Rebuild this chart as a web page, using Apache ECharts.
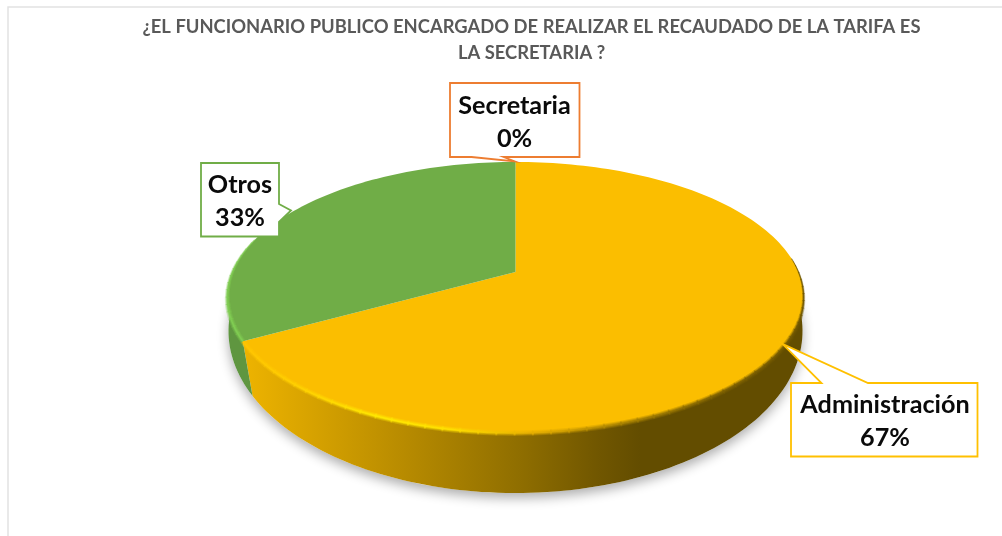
<!DOCTYPE html>
<html>
<head>
<meta charset="utf-8">
<style>html,body{margin:0;padding:0;background:#fff;overflow:hidden}#c{width:1002px;height:536px}</style>
<script src="https://cdn.jsdelivr.net/npm/echarts@6/dist/echarts.min.js"></script>
</head>
<body>
<div id="c"></div>
<script>
const titleLines = ['¿EL FUNCIONARIO PUBLICO ENCARGADO DE REALIZAR EL RECAUDADO DE LA TARIFA ES', 'LA SECRETARIA ?'];
const categories = ['Administración', 'Otros', 'Secretaria'];
const values = [67, 33, 0];

const faceColors = ['#FBBE00', '#70AD47', '#ED7D31'];
const boxColors = ['#FFC000', '#70AD47', '#ED7D31'];

// projection of the tilted disc
const top3d = {cx: 515.5, cy: 272, R: 283, S: 130.7, k: 0.188};
const bot3d = {cx: 515.5, cy: 314.8, R: 285.6, S: 160.4, k: 0.1};
function proj(p, deg) {
  const t = deg * Math.PI / 180, u = Math.sin(t), v = -Math.cos(t), w = 1 - p.k * v;
  return [p.cx + p.R * u / w, p.cy + p.S * v / w];
}
function arc(p, a, b) {
  const n = Math.max(2, Math.ceil(Math.abs(b - a) / 1.5)), out = [];
  for (let i = 0; i <= n; i++) out.push(proj(p, a + (b - a) * i / n));
  return out;
}
const total = values.reduce((s, v) => s + v, 0);
function angles(i) {
  let s = 0;
  for (let j = 0; j < i; j++) s += values[j];
  return [s / total * 360, (s + values[i]) / total * 360];
}
function grad(stops) {
  return {type: 'linear', x: 227, y: 0, x2: 804, y2: 0, global: true,
    colorStops: stops.map(s => ({offset: (s[0] - 227) / 577, color: s[1]}))};
}
const sideFill = [
  grad([[245, '#EDB300'], [400, '#B98C00'], [520, '#8F6E00'], [600, '#705600'], [640, '#634D00'], [804, '#634D00']]),
  '#5F9640', '#C0601F'
];
const rimStroke = [
  grad([[245, '#FFC400'], [300, '#FFD000'], [380, '#FFE800'], [450, '#FFE000'], [530, '#E8B000'], [620, '#A98200'], [720, '#7E6100'], [804, '#6E5500']]),
  '#80CC52', '#ED7D31'
];
const sideRange = [[85, 275], [85, 275], [85, 275]];

function sideItem(params, api) {
  const i = params.dataIndex;
  const [a0, b0] = angles(i);
  const a = Math.max(a0, sideRange[i][0]), b = Math.min(b0, sideRange[i][1]);
  if (b <= a) return {type: 'group', children: []};
  const pts = arc(top3d, a, b).concat(arc(bot3d, b, a));
  return {type: 'polygon', shape: {points: pts}, style: {fill: sideFill[i]}};
}
function shadowItem(params) {
  if (params.dataIndex !== 0) return {type: 'group', children: []};
  return {type: 'polygon', shape: {points: arc(bot3d, 0, 360)},
    style: {fill: '#fff', shadowBlur: 12, shadowColor: 'rgba(0,0,0,0.32)', shadowOffsetY: 5}};
}
function faceItem(params) {
  const i = params.dataIndex;
  const [a, b] = angles(i);
  if (b <= a) return {type: 'group', children: []};
  const children = [{type: 'polygon', shape: {points: [proj(top3d, a)].concat(arc(top3d, a, b)).concat([[top3d.cx, top3d.cy]])},
    style: {fill: faceColors[i]}}];
  const ra = Math.max(a, 84), rb = Math.min(b, 285), step = 3;
  for (let s = ra; s < rb; s += step) {
    const e = Math.min(s + step + 0.3, rb);
    const mid = (s + e) / 2;
    const fade = Math.min(1, Math.min(mid - 84, 290 - mid) / 35);
    [[5.5, 0.3], [3.4, 0.5], [1.6, 0.9]].forEach(l => {
      children.push({type: 'polyline', shape: {points: arc(top3d, s, e)},
        style: {fill: 'none', stroke: rimStroke[i], lineWidth: l[0] * (0.15 + 0.85 * fade), opacity: l[1]}});
    });
  }
  return {type: 'group', children};
}
const callouts = [
  {x0: 791, y0: 383, x1: 977.5, y1: 456.5, tail: [[868, 383], [782.5, 344], [821.5, 383]], side: 'top', tx: 885, ty: 421.5},
  {x0: 201, y0: 163, x1: 279, y1: 236.5, tail: [[279, 204], [291, 210.5], [279, 222]], side: 'right', tx: 240, ty: 201.5},
  {x0: 450, y0: 83, x1: 579.5, y1: 157, tail: [[503.5, 157], [515, 161.5], [471.5, 157]], side: 'bottom', tx: 514.5, ty: 122.5}
];
function calloutItem(params) {
  const i = params.dataIndex, c = callouts[i];
  let pts;
  if (c.side === 'top') pts = [[c.x0, c.y0]].concat(c.tail.slice().reverse()).concat([[c.x1, c.y0], [c.x1, c.y1], [c.x0, c.y1]]);
  else if (c.side === 'right') pts = [[c.x0, c.y0], [c.x1, c.y0]].concat(c.tail).concat([[c.x1, c.y1], [c.x0, c.y1]]);
  else pts = [[c.x0, c.y0], [c.x1, c.y0], [c.x1, c.y1]].concat(c.tail).concat([[c.x0, c.y1]]);
  return {type: 'group', children: [
    {type: 'polygon', shape: {points: pts}, style: {fill: '#fff', stroke: boxColors[i], lineWidth: 1.8}},
    {type: 'text', style: {text: categories[i] + '\n' + values[i] + '%', x: c.tx, y: c.ty, align: 'center', verticalAlign: 'middle',
      fontFamily: 'Lato', fontWeight: 700, fontSize: 25.2, lineHeight: 32.5, fill: '#0A0A0A'}}
  ]};
}
const seriesData = categories.map((n, i) => ({name: n, value: values[i]}));
const layer = (fn, z) => ({type: 'custom', coordinateSystem: 'none', renderItem: fn, data: seriesData, z, silent: true, animation: false, clip: false});

const chart = echarts.init(document.getElementById('c'), null, {width: 1002, height: 536});
chart.setOption({
  backgroundColor: '#fff',
  animation: false,
  title: {text: titleLines.join('\n'), left: 526.5, top: 9, textAlign: 'center',
    textStyle: {fontFamily: 'Lato', fontWeight: 700, fontSize: 18.4, lineHeight: 26, color: '#595959'}},
  graphic: [{type: 'rect', shape: {x: 8, y: 7, width: 1020, height: 560}, style: {fill: 'none', stroke: '#E2E2E2', lineWidth: 1.5}, z: 0}],
  series: [layer(shadowItem, 1), layer(sideItem, 2), layer(faceItem, 3), layer(calloutItem, 4)]
});
</script>
</body>
</html>
